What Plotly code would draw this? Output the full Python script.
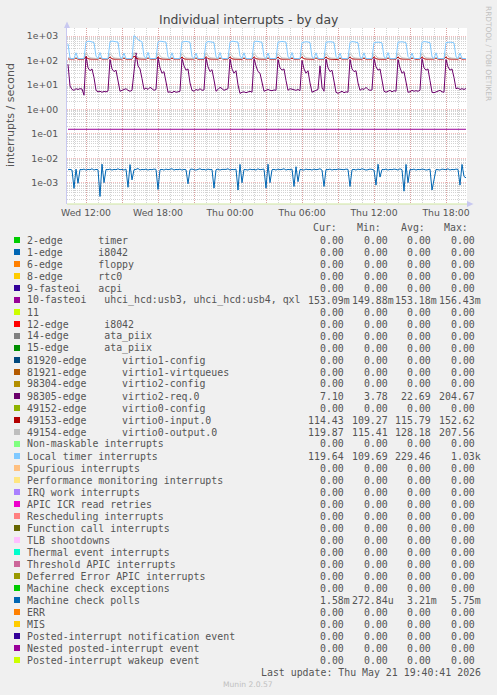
import plotly.graph_objects as go
import pandas as pd

# ---------------- data (10-minute samples, Wed 10:30 -> Thu 19:40) ----------------
start_time = "2026-05-20 10:30"
n_samples = 200
times = pd.date_range(start_time, periods=n_samples, freq="10min")

timer_local = [
    480, 125, 118, 120, 205, 122, 118, 120, 121,
    560, 610, 600, 570, 540, 150, 120, 210, 121, 118, 120, 119,
    580, 620, 600, 580, 560, 140, 120, 200, 120, 118, 121, 120,
    1030, 900, 700, 620, 580, 150, 121, 215, 119, 120, 118, 120,
    560, 610, 600, 580, 560, 140, 120, 205, 120, 119, 121, 118,
    570, 600, 600, 585, 550, 145, 120, 200, 121, 120, 118, 120,
    540, 590, 580, 570, 540, 140, 120, 210, 120, 119, 121, 120,
    560, 610, 600, 590, 560, 150, 121, 205, 120, 118, 120, 121,
    570, 610, 600, 580, 550, 145, 120, 200, 119, 121, 120, 118,
    560, 600, 600, 585, 560, 140, 121, 210, 120, 118, 120, 119,
    540, 580, 580, 570, 540, 140, 120, 205, 121, 120, 118, 120,
    560, 590, 580, 570, 540, 145, 120, 200, 119, 120, 121, 118,
    550, 590, 580, 560, 530, 140, 120, 205, 120, 119, 120, 121,
    540, 570, 560, 550, 520, 140, 121, 210, 120, 118, 120, 119,
    560, 590, 580, 560, 530, 145, 120, 200, 121, 120, 118, 120,
    550, 590, 580, 560, 530, 140, 120, 205, 119, 120, 121, 118,
    540, 570, 560, 550, 520, 140, 120, 200, 121, 120, 119.64,
]

virtio2_req = [
    70, 9, 6.5, 6, 7, 6.5, 7, 6.8, 3.78,
    150, 50, 38, 45, 20, 6, 5.2, 5.5, 5, 5.4, 5.2, 5.6,
    110, 45, 35, 40, 12, 5.5, 6, 6.5, 7, 6, 5.5, 6,
    40, 204.67, 60, 45, 18, 6.5, 7.5, 6.5, 8, 7, 6, 6.5,
    130, 50, 30, 35, 14, 5, 5.2, 4.8, 5.5, 5, 5.2, 5.5,
    120, 60, 40, 45, 12, 6, 5.5, 6.5, 6, 7, 6, 6.2,
    125, 55, 35, 42, 16, 5.5, 6.5, 8, 7, 6, 6.5, 7,
    115, 45, 30, 38, 10, 4.5, 5, 5.2, 4.8, 5, 5.5, 5,
    120, 60, 35, 30, 12, 5.5, 6, 6.5, 6, 5.8, 6.2, 6,
    110, 50, 40, 45, 15, 6, 7, 6.5, 6, 6, 6.5, 5.8,
    100, 45, 30, 38, 12, 5, 5.5, 6, 6.5, 60, 8, 5.5,
    115, 50, 35, 40, 14, 5, 4.5, 5, 5.5, 4.8, 5.2, 5,
    110, 45, 35, 38, 12, 6, 7, 6.5, 8, 6.5, 6, 6.2,
    120, 55, 40, 45, 16, 5.5, 5, 5.5, 6, 5.2, 5.8, 5.5,
    110, 50, 30, 35, 12, 5, 5.2, 6, 5.5, 5.8, 5.5, 6,
    120, 50, 40, 45, 15, 5, 4.8, 5.2, 5.5, 6, 5.2, 5,
    110, 55, 40, 45, 20, 7, 7.5, 6.5, 7, 6.5, 7.1,
]

virtio0_input = [
    115, 113, 112, 114, 125, 113, 112, 114, 113,
    142, 118, 114, 113, 115, 112, 113, 126, 114, 113, 112, 114,
    140, 117, 113, 114, 112, 113, 114, 124, 113, 112, 114, 113,
    152.62, 125, 115, 113, 114, 112, 113, 127, 114, 113, 112, 113,
    141, 118, 114, 112, 113, 114, 112, 125, 113, 114, 112, 113,
    139, 116, 113, 114, 112, 113, 114, 126, 112, 113, 114, 112,
    143, 118, 114, 113, 112, 114, 113, 125, 114, 112, 113, 114,
    140, 117, 113, 112, 114, 113, 112, 124, 113, 114, 112, 113,
    142, 118, 114, 113, 112, 114, 113, 126, 112, 113, 114, 112,
    138, 116, 113, 114, 112, 113, 114, 125, 113, 112, 113, 114,
    141, 117, 114, 112, 113, 114, 112, 127, 114, 113, 112, 113,
    139, 118, 113, 114, 112, 113, 109.27, 124, 113, 114, 112, 113,
    140, 116, 114, 113, 112, 114, 113, 125, 112, 113, 114, 112,
    142, 118, 113, 112, 114, 113, 112, 126, 113, 114, 113, 112,
    139, 117, 114, 113, 112, 114, 113, 124, 114, 112, 113, 114,
    141, 118, 113, 114, 112, 113, 114, 125, 113, 112, 114, 113,
    140, 116, 114, 113, 112, 114, 113, 126, 113, 114, 114.43,
]

virtio0_output = [
    130, 120, 118, 119, 132, 120, 117, 119, 118,
    195, 150, 128, 125, 124, 122, 119, 135, 120, 118, 121, 119,
    190, 148, 127, 124, 125, 121, 118, 133, 119, 120, 118, 120,
    207.56, 160, 130, 126, 124, 122, 120, 136, 118, 119, 121, 118,
    192, 150, 128, 125, 123, 121, 119, 134, 120, 118, 119, 120,
    188, 146, 127, 124, 125, 122, 118, 132, 119, 120, 118, 119,
    194, 151, 129, 126, 124, 121, 120, 135, 118, 119, 120, 118,
    190, 149, 127, 125, 123, 122, 119, 133, 120, 118, 119, 120,
    193, 150, 128, 124, 125, 121, 118, 134, 119, 120, 118, 119,
    186, 145, 126, 125, 123, 122, 120, 136, 118, 119, 121, 118,
    191, 148, 128, 126, 124, 121, 119, 132, 120, 118, 119, 120,
    189, 147, 127, 124, 125, 122, 115.41, 133, 119, 120, 118, 119,
    192, 150, 128, 125, 123, 121, 120, 135, 118, 119, 120, 118,
    187, 146, 126, 124, 124, 122, 119, 134, 120, 118, 119, 120,
    190, 149, 128, 125, 123, 121, 118, 133, 119, 120, 118, 119,
    191, 148, 127, 126, 124, 122, 120, 132, 118, 119, 121, 118,
    188, 147, 128, 124, 123, 121, 119, 134, 120, 118, 119.87,
]

fasteoi10 = [
    0.153, 0.153, 0.153, 0.153, 0.153, 0.153, 0.153, 0.153, 0.153, 0.153,
    0.153, 0.153, 0.153, 0.153, 0.153, 0.153, 0.153, 0.153, 0.153, 0.153,
    0.153, 0.153, 0.153, 0.153, 0.153, 0.153, 0.153, 0.153, 0.153, 0.153,
    0.153, 0.153, 0.153, 0.153, 0.153, 0.153, 0.153, 0.153, 0.153, 0.153,
    0.1499, 0.153, 0.153, 0.153, 0.153, 0.153, 0.153, 0.153, 0.153, 0.153,
    0.153, 0.153, 0.153, 0.153, 0.153, 0.153, 0.153, 0.153, 0.153, 0.153,
    0.153, 0.153, 0.153, 0.153, 0.153, 0.153, 0.153, 0.153, 0.153, 0.153,
    0.153, 0.153, 0.1564, 0.153, 0.153, 0.153, 0.1564, 0.153, 0.153, 0.153,
    0.153, 0.153, 0.153, 0.153, 0.153, 0.153, 0.153, 0.153, 0.153, 0.153,
    0.153, 0.153, 0.153, 0.153, 0.153, 0.153, 0.153, 0.153, 0.153, 0.153,
    0.153, 0.153, 0.153, 0.153, 0.153, 0.153, 0.153, 0.153, 0.153, 0.1564,
    0.153, 0.153, 0.153, 0.153, 0.153, 0.153, 0.153, 0.153, 0.153, 0.153,
    0.153, 0.153, 0.153, 0.153, 0.153, 0.153, 0.153, 0.153, 0.153, 0.153,
    0.153, 0.1564, 0.153, 0.153, 0.153, 0.153, 0.153, 0.1564, 0.153, 0.153,
    0.153, 0.153, 0.153, 0.153, 0.153, 0.153, 0.153, 0.153, 0.153, 0.153,
    0.153, 0.153, 0.153, 0.153, 0.153, 0.153, 0.1564, 0.153, 0.153, 0.153,
    0.153, 0.153, 0.153, 0.153, 0.153, 0.153, 0.153, 0.153, 0.153, 0.153,
    0.153, 0.153, 0.153, 0.153, 0.153, 0.153, 0.1564, 0.153, 0.153, 0.153,
    0.153, 0.153, 0.153, 0.153, 0.153, 0.153, 0.153, 0.153, 0.1564, 0.153,
    0.153, 0.153, 0.153, 0.153, 0.153, 0.153, 0.153, 0.153, 0.153, 0.15309,
]

# machine check polls, in milli-interrupts per second
mc_polls_milli = [
    3.4, 3.5, 3.3, 0.59, 3.6, 0.95, 3.5, 3.4, 3.6, 3.3,
    3.5, 3.4, 3.7, 3.3, 3.5, 3.4, 0.273, 5.75, 1.0, 3.5,
    3.4, 3.6, 3.3, 3.5, 3.4, 3.7, 3.4, 3.5, 3.3, 3.6,
    0.65, 5.5, 1.3, 3.4, 3.5, 3.8, 3.3, 3.5, 3.4, 3.6,
    3.3, 3.5, 3.4, 3.6, 3.5, 0.53, 3.4, 3.5, 3.3, 3.6,
    3.4, 3.5, 3.7, 3.3, 3.5, 3.4, 3.6, 3.3, 3.5, 3.4,
    0.9, 3.5, 3.6, 3.4, 3.3, 3.5, 3.7, 3.4, 3.5, 3.3,
    3.6, 3.4, 3.5, 0.6, 3.4, 3.6, 3.3, 3.5, 3.4, 3.5,
    3.7, 3.3, 3.5, 3.4, 3.6, 0.5, 5.6, 1.0, 3.5, 3.4,
    3.3, 3.6, 3.4, 3.5, 3.3, 3.7, 3.4, 3.5, 3.6, 0.6,
    5.7, 1.0, 3.4, 3.5, 3.3, 3.6, 3.4, 3.5, 3.7, 3.3,
    3.5, 3.4, 3.6, 0.7, 4.5, 1.1, 3.5, 3.4, 3.3, 3.6,
    3.4, 3.5, 3.3, 3.6, 3.4, 3.5, 3.7, 3.3, 0.7, 3.5,
    3.4, 3.6, 3.3, 3.5, 3.4, 3.6, 3.5, 3.3, 3.4, 3.6,
    3.5, 0.7, 3.4, 3.5, 3.3, 3.6, 3.4, 3.7, 3.5, 3.3,
    3.4, 3.6, 3.5, 3.3, 0.8, 5.7, 1.7, 3.5, 3.4, 3.6,
    3.3, 3.5, 3.4, 3.6, 3.5, 3.3, 3.7, 3.4, 0.45, 5.6,
    1.0, 3.5, 3.4, 3.6, 3.3, 3.5, 3.4, 3.6, 3.5, 3.3,
    3.4, 3.6, 0.5, 1.5, 3.5, 3.4, 3.3, 3.6, 3.5, 3.4,
    3.7, 3.3, 3.5, 3.4, 3.6, 3.5, 0.8, 5.6, 1.8, 1.58,
]
mc_polls = [v / 1000 for v in mc_polls_milli]

# legend table
legend_labels = [
    "2-edge      timer", "1-edge      i8042", "6-edge      floppy", "8-edge      rtc0",
    "9-fasteoi   acpi", "10-fasteoi   uhci_hcd:usb3, uhci_hcd:usb4, qxl", "11",
    "12-edge      i8042", "14-edge      ata_piix", "15-edge      ata_piix",
    "81920-edge      virtio1-config", "81921-edge      virtio1-virtqueues",
    "98304-edge      virtio2-config", "98305-edge      virtio2-req.0",
    "49152-edge      virtio0-config", "49153-edge      virtio0-input.0",
    "49154-edge      virtio0-output.0", "Non-maskable interrupts", "Local timer interrupts",
    "Spurious interrupts", "Performance monitoring interrupts", "IRQ work interrupts",
    "APIC ICR read retries", "Rescheduling interrupts", "Function call interrupts",
    "TLB shootdowns", "Thermal event interrupts", "Threshold APIC interrupts",
    "Deferred Error APIC interrupts", "Machine check exceptions", "Machine check polls",
    "ERR", "MIS", "Posted-interrupt notification event", "Nested posted-interrupt event",
    "Posted-interrupt wakeup event",
]
legend_colors = [
    "#00CC00", "#0066B3", "#FF8000", "#FFCC00", "#330099", "#990099", "#CCFF00",
    "#FF0000", "#808080", "#008F00", "#00487D", "#B35A00", "#B38F00", "#6B006B",
    "#8FB300", "#B30000", "#BEBEBE", "#80FF80", "#80C9FF", "#FFC080", "#FFE680",
    "#AA80FF", "#EE00CC", "#FF8080", "#666600", "#FFBFFF", "#00FFCC", "#CC6699",
    "#999900", "#00CC00", "#0066B3", "#FF8000", "#FFCC00", "#330099", "#990099",
    "#CCFF00",
]
Z = "0.00"
cur_vals = [Z]*5 + ["153.09m"] + [Z]*7 + ["7.10", Z, "114.43", "119.87", Z, "119.64"] + [Z]*11 + ["1.58m"] + [Z]*5
min_vals = [Z]*5 + ["149.88m"] + [Z]*7 + ["3.78", Z, "109.27", "115.41", Z, "109.69"] + [Z]*11 + ["272.84u"] + [Z]*5
avg_vals = [Z]*5 + ["153.18m"] + [Z]*7 + ["22.69", Z, "115.79", "128.18", Z, "229.46"] + [Z]*11 + ["3.21m"] + [Z]*5
max_vals = [Z]*5 + ["156.43m"] + [Z]*7 + ["204.67", Z, "152.62", "207.56", Z, "1.03k"] + [Z]*11 + ["5.75m"] + [Z]*5

x_tick_times = ["2026-05-20 12:00", "2026-05-20 15:00", "2026-05-20 18:00", "2026-05-20 21:00",
                "2026-05-21 00:00", "2026-05-21 03:00", "2026-05-21 06:00", "2026-05-21 09:00",
                "2026-05-21 12:00", "2026-05-21 15:00", "2026-05-21 18:00"]
x_tick_text = ["Wed 12:00", "", "Wed 18:00", "", "Thu 00:00", "", "Thu 06:00", "",
               "Thu 12:00", "", "Thu 18:00"]
y_tick_vals = [1e-3, 1e-2, 1e-1, 1e0, 1e1, 1e2, 1e3]
y_tick_text = ["1e-03", "1e-02", "1e-01", "1e+00", "1e+01", "1e+02", "1e+03"]

# ---------------- layout helpers ----------------
W, H = 497, 695
PL, PR, PT, PB = 67, 467, 28, 204


def px(x):
    return (x - PL) / (PR - PL)


def py(y):
    return (PB - y) / (PB - PT)


fig = go.Figure()
series = [
    (fasteoi10, "#990099"),
    (virtio2_req, "#6B006B"),
    (virtio0_input, "#B30000"),
    (virtio0_output, "#BEBEBE"),
    (timer_local, "#80C9FF"),
    (mc_polls, "#0066B3"),
]
for vals, col in series:
    fig.add_trace(go.Scatter(x=times, y=vals, mode="lines",
                             line=dict(color=col, width=1), hoverinfo="skip",
                             showlegend=False))

minor_y = []
for d in range(-4, 4):
    for m in range(2, 10):
        minor_y.append(m * 10 ** d)

TXT = "#555555"
MAJ = "rgba(225,80,80,0.38)"
MIN = "rgba(150,150,150,0.42)"
DASH = "1px,1px"
fig.update_layout(
    width=W, height=H,
    margin=dict(l=PL, r=W - PR, t=PT, b=H - PB),
    paper_bgcolor="#F0F0F0", plot_bgcolor="#FFFFFF",
    font=dict(family="DejaVu Sans", color=TXT),
    xaxis=dict(type="date", range=["2026-05-20 10:25", "2026-05-21 19:45"],
               tickmode="array", tickvals=x_tick_times, ticktext=x_tick_text,
               showgrid=True, gridcolor=MAJ, griddash=DASH, gridwidth=1,
               minor=dict(dtick=3600000, showgrid=True, gridcolor=MIN, griddash=DASH),
               tickfont=dict(size=9.3, color=TXT), ticks="", showline=False,
               zeroline=False, ticklabelstandoff=2),
    yaxis=dict(type="log", range=[-3.871, 3.327], tickmode="array",
               tickvals=y_tick_vals, ticktext=y_tick_text,
               showgrid=True, gridcolor=MAJ, griddash=DASH, gridwidth=1,
               minor=dict(tickmode="array", tickvals=minor_y, showgrid=True,
                          gridcolor=MIN, griddash=DASH),
               tickfont=dict(size=9.3, color=TXT), ticks="", showline=True,
               linecolor="#C8C8F0", linewidth=1, zeroline=False,
               ticklabelstandoff=6),
)

shapes = []
# bottom line and axis arrows
shapes.append(dict(type="line", xref="paper", yref="paper", x0=0, x1=1, y0=0, y1=0,
                   line=dict(color="#CFE6A0", width=1)))
shapes.append(dict(type="path", xref="paper", yref="paper",
                   path=f"M {px(64)} {py(28)} L {px(70)} {py(28)} L {px(67)} {py(21.5)} Z",
                   fillcolor="#C8C8F0", line=dict(width=0)))
shapes.append(dict(type="path", xref="paper", yref="paper",
                   path=f"M {px(467)} {py(201)} L {px(467)} {py(207)} L {px(473.5)} {py(204)} Z",
                   fillcolor="#C8C8F0", line=dict(width=0)))

ann = []
ann.append(dict(text="Individual interrupts - by day", x=px(248.5), y=py(19),
                font=dict(size=12.4, color="#444444")))
ann.append(dict(text="interrupts / second", x=px(11), y=py(115), textangle=-90,
                font=dict(size=11, color=TXT)))
ann.append(dict(text="RRDTOOL / TOBI OETIKER", x=px(489), y=py(53), textangle=90,
                font=dict(size=7.4, color="#C0C0C0")))
ann.append(dict(text="Munin 2.0.57", x=px(248), y=py(684),
                font=dict(size=7.6, color="#C0C0C0")))

MONO = "DejaVu Sans Mono"
MS = 9.9
for hdr, xr in zip(["Cur:", "Min:", "Avg:", "Max:"], [338.5, 382.5, 426.5, 470]):
    ann.append(dict(text=hdr, x=px(xr), y=py(227), xanchor="right",
                    font=dict(family=MONO, size=MS, color=TXT)))

col_edges = [346, 389.5, 433, 476.7]
for j, (lab, col) in enumerate(zip(legend_labels, legend_colors)):
    yc = 240 + 12 * j
    shapes.append(dict(type="rect", xref="paper", yref="paper",
                       x0=px(14), x1=px(20), y0=py(yc + 3), y1=py(yc - 3),
                       fillcolor=col, line=dict(width=0)))
    ann.append(dict(text=lab.replace(" ", "\u00a0"), x=px(25), y=py(yc), xanchor="left",
                    font=dict(family=MONO, size=MS, color=TXT)))
    for edge, vals in zip(col_edges, [cur_vals, min_vals, avg_vals, max_vals]):
        v = vals[j]
        xe = edge + 6 if v[-1].isalpha() else edge
        ann.append(dict(text=v, x=px(xe), y=py(yc), xanchor="right",
                        font=dict(family=MONO, size=MS, color=TXT)))

ann.append(dict(text="Last update: Thu May 21 19:40:41 2026".replace(" ", "\u00a0"),
                x=px(483), y=py(672), xanchor="right",
                font=dict(family=MONO, size=MS, color=TXT)))

for a in ann:
    a.setdefault("xref", "paper")
    a.setdefault("yref", "paper")
    a.setdefault("showarrow", False)
    a.setdefault("yanchor", "middle")
    a.setdefault("xanchor", "center")
fig.update_layout(annotations=ann, shapes=shapes)

fig.write_html(
    "out.html",
    config={"displayModeBar": False},
    post_script="document.body.style.margin='0';document.body.style.background='#F0F0F0';document.body.style.overflow='hidden';",
)
